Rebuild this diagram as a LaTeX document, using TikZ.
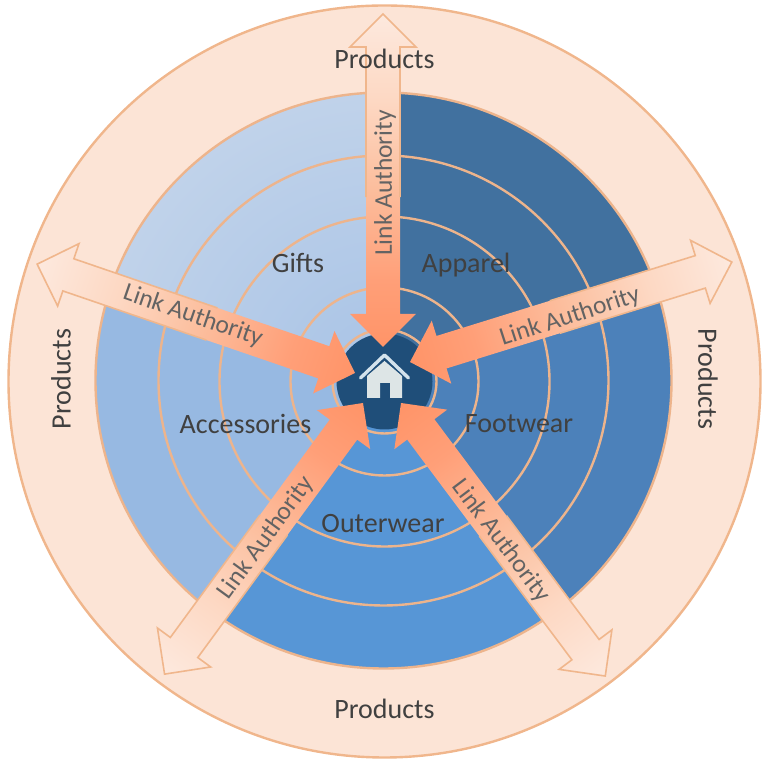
\documentclass[tikz,border=0pt]{standalone}
\usepackage{fontspec}
\setmainfont{Carlito}
\definecolor{arrA}{HTML}{FF9468}
\definecolor{arrB}{HTML}{FF9F78}
\definecolor{arrC}{HTML}{FCC0A0}
\definecolor{arrD}{HTML}{FDD8C3}
\definecolor{arrE}{HTML}{FDE9DE}
\pgfdeclarehorizontalshading{arrowshade}{100bp}{
  color(0bp)=(arrA); color(25bp)=(arrA); color(35bp)=(arrB); color(50bp)=(arrC);
  color(62bp)=(arrD); color(75bp)=(arrE); color(100bp)=(arrE)}
\definecolor{ringc}{HTML}{EDB48C}
\definecolor{outerf}{HTML}{FCE4D6}
\definecolor{outerl}{HTML}{F0B68C}
\definecolor{giftsA}{HTML}{A8C3E6}
\definecolor{giftsB}{HTML}{C1D3EA}
\definecolor{apparel}{HTML}{41719F}
\definecolor{footwear}{HTML}{4C81BA}
\definecolor{outerwear}{HTML}{5796D6}
\definecolor{accessories}{HTML}{97B9E2}
\definecolor{hub}{HTML}{1F4E79}
\definecolor{houseA}{HTML}{D3E2EC}
\definecolor{houseB}{HTML}{DDE5E6}
\definecolor{labelc}{HTML}{404040}
\definecolor{linkc}{HTML}{636363}
\tikzset{
  ring/.style={draw=ringc,line width=2.4pt},
  catlabel/.style={font=\fontsize{28}{32}\selectfont,text=labelc,inner sep=0pt},
  linklabel/.style={font=\fontsize{25.5}{30}\selectfont,text=linkc,inner sep=0pt},
  arrowline/.style={draw=outerl,line width=1.6pt,line join=miter}
}
% inner tip x, y, angle, length
\newcommand{\dblarrow}[4]{%
  \begin{scope}[transform canvas={shift={(#1,#2)},rotate=#3}]
    \path[shading=arrowshade] (0,0) -- (33,33) -- (33,17) -- (#4-33,17) -- (#4-33,33) -- (#4,0)
      -- (#4-33,-33) -- (#4-33,-17) -- (33,-17) -- (33,-33) -- cycle;
    \draw[arrowline] (#4*0.45,17) -- (#4-33,17) -- (#4-33,33) -- (#4,0)
      -- (#4-33,-33) -- (#4-33,-17) -- (#4*0.45,-17);
  \end{scope}}
\begin{document}
\begin{tikzpicture}[x=1pt,y=1pt]
\useasboundingbox (0,0) rectangle (768,762);
\coordinate (c) at (384.5,380.5);
\coordinate (d) at (383.5,381.5);
% outer disc
\draw[fill=outerf,draw=outerl,line width=2.4pt] (c) circle (376);
% sectors
\fill[apparel] (d) -- ++(90:288) arc (90:18:288) -- cycle;
\fill[footwear] (d) -- ++(18:288) arc (18:-53:288) -- cycle;
\fill[outerwear] (d) -- ++(-53:288) arc (-53:-126:288) -- cycle;
\fill[accessories] (d) -- ++(234:288) arc (234:162:288) -- cycle;
\begin{scope}
  \clip (d) -- ++(162:288) arc (162:90:288) -- cycle;
  \shade[inner color=giftsA,outer color=giftsB] (d) circle (300);
\end{scope}
% rings
\draw[ring] (d) circle (288);
\draw[ring] (d) circle (225);
\draw[ring] (c) circle (165);
\draw[ring] (c) circle (94);
\draw[ring] (c) circle (52);
% hub
\fill[hub] (c) circle (48);
% arrows
\dblarrow{383}{415}{90}{333}
\dblarrow{410}{400}{17.25}{337}
\dblarrow{355}{389}{161.1}{336}
\dblarrow{363}{359}{233.8}{336}
\dblarrow{401}{359}{306.8}{341}
% house
\fill[houseB] (384.5,401) -- (402,386) -- (402,364) -- (390,364) -- (390,379) -- (380,379) -- (380,364) -- (367,364) -- (367,386) -- cycle;
\draw[houseA,line width=3.4pt,line cap=round,line join=round] (360.5,384) -- (384.5,407) -- (408.5,384);
% labels
\node[catlabel] (p1) at (384.5,703.5) {Products};
\node[catlabel] (p2) at (384.5,53) {Products};
\node[catlabel,rotate=90] (p3) at (61,383) {Products};
\node[catlabel,rotate=-90] (p4) at (708,383) {Products};
\node[catlabel] (gifts) at (298,499) {Gifts};
\node[catlabel] (apparel) at (466,497) {Apparel};
\node[catlabel] (acc) at (245.5,338) {Accessories};
\node[catlabel] (foot) at (519,338) {Footwear};
\node[catlabel] (outw) at (383,238) {Outerwear};
\node[linklabel,rotate=90] (l1) at (385,579) {Link Authority};
\node[linklabel,rotate=18] (l2) at (570,445) {Link Authority};
\node[linklabel,rotate=-19] (l3) at (193,446) {Link Authority};
\node[linklabel,rotate=54] (l4) at (266,224) {Link Authority};
\node[linklabel,rotate=-53] (l5) at (501,221) {Link Authority};
\end{tikzpicture}
\end{document}
